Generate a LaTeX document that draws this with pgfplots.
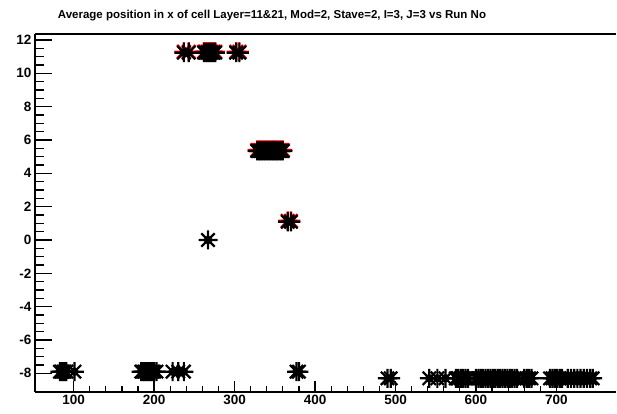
\documentclass[border=0pt]{standalone}
\usepackage{fontspec}
\setmainfont{Liberation Sans}
\usepackage{pgfplots}
\pgfplotsset{compat=1.18}

% ROOT-like eight-armed asterisk with a solid core
\pgfdeclareplotmark{rootstar}{%
  \pgfpathmoveto{\pgfqpoint{-\pgfplotmarksize}{0pt}}\pgfpathlineto{\pgfqpoint{\pgfplotmarksize}{0pt}}%
  \pgfpathmoveto{\pgfqpoint{0pt}{-\pgfplotmarksize}}\pgfpathlineto{\pgfqpoint{0pt}{\pgfplotmarksize}}%
  \pgfpathmoveto{\pgfqpoint{-0.7\pgfplotmarksize}{-0.7\pgfplotmarksize}}\pgfpathlineto{\pgfqpoint{0.7\pgfplotmarksize}{0.7\pgfplotmarksize}}%
  \pgfpathmoveto{\pgfqpoint{-0.7\pgfplotmarksize}{0.7\pgfplotmarksize}}\pgfpathlineto{\pgfqpoint{0.7\pgfplotmarksize}{-0.7\pgfplotmarksize}}%
  \pgfusepathqstroke
  \pgfpathcircle{\pgfpointorigin}{0.45\pgfplotmarksize}\pgfusepathqfill}

\begin{document}
\begin{tikzpicture}
\begin{axis}[name=ax, at={(0,0)}, anchor=south west, scale only axis,
  width=581pt, height=358pt,
  xmin=52, xmax=774, ymin=-9.12, ymax=12.36,
  axis x line*=box, axis y line*=left,
  axis line style={line width=1.8pt},
  xtick pos=left, ytick pos=left, tick align=inside,
  xtick={100,200,...,700}, minor x tick num=4,
  ytick={-8,-6,...,12}, minor y tick num=3,
  major tick length=17pt, minor tick length=9pt,
  xtick style={/pgfplots/major tick length=11pt, /pgfplots/minor tick length=6pt},
  tick style={line width=1.2pt, black},
  /pgf/number format/assume math mode=true,
  tick label style={font=\bfseries\fontsize{13.5}{14}\selectfont},
  every axis plot/.append style={only marks, mark=rootstar, mark size=9.5pt, line width=2.2pt}]

% red graph (drawn underneath)
\addplot[red, mark options={red}] coordinates {
  (237,11.3) (243,11.3) (262,11.3) (264,11.3) (266,11.3) (268,11.3) (270,11.3) (272,11.3) (274,11.3) (276,11.3) (302,11.3) (306,11.3)
  (328,5.4) (330,5.4) (332,5.4) (334,5.4) (336,5.4) (338,5.4) (340,5.4) (342,5.4) (344,5.4) (346,5.4) (348,5.4)
  (350,5.4) (352,5.4) (354,5.4) (356,5.4) (358,5.4) (360,5.4)
  (366,1.15) (370,1.15)
};

% black graph
\addplot[black, mark options={black}] coordinates {
  (237,11.24) (243,11.24) (262,11.24) (264,11.24) (266,11.24) (268,11.24) (270,11.24) (272,11.24) (274,11.24) (276,11.24) (302,11.24) (306,11.24)
  (328,5.34) (330,5.34) (332,5.34) (334,5.34) (336,5.34) (338,5.34) (340,5.34) (342,5.34) (344,5.34) (346,5.34) (348,5.34)
  (350,5.34) (352,5.34) (354,5.34) (356,5.34) (358,5.34) (360,5.34)
  (366,1.09) (370,1.09)
  (267,0)
  (83,-7.9) (85,-7.9) (87,-7.9) (89,-7.9) (91,-7.9) (101,-7.9)
  (184,-7.9) (186,-7.9) (188,-7.9) (190,-7.9) (192,-7.9) (194,-7.9) (196,-7.9) (198,-7.9) (200,-7.9) (203,-7.9)
  (223,-7.9) (230,-7.9) (237,-7.9)
  (377,-7.9) (380,-7.9)
  (490,-8.3) (494,-8.3) (542,-8.3) (552,-8.3) (562,-8.3)
  (575,-8.3) (578,-8.3) (581,-8.3) (584,-8.3) (587,-8.3) (590,-8.3) (600,-8.3) (603,-8.3) (606,-8.3) (609,-8.3)
  (612,-8.3) (615,-8.3) (618,-8.3) (621,-8.3) (624,-8.3) (627,-8.3) (630,-8.3) (633,-8.3) (636,-8.3) (639,-8.3)
  (642,-8.3) (645,-8.3) (648,-8.3) (651,-8.3) (660,-8.3) (663,-8.3) (666,-8.3) (669,-8.3)
  (692,-8.3) (695,-8.3) (698,-8.3) (701,-8.3) (704,-8.3) (707,-8.3) (714,-8.3) (718,-8.3) (722,-8.3) (726,-8.3)
  (730,-8.3) (734,-8.3) (738,-8.3) (742,-8.3) (745,-8.3)
};
\end{axis}
\pgfresetboundingbox
\path[use as bounding box] ([shift={(-35pt,-22pt)}]ax.south west) rectangle ([shift={(582pt,392pt)}]ax.south west);
\node[font=\bfseries\fontsize{11.5}{13}\selectfont] at ([shift={(237pt,376pt)}]ax.south west)
  {Average position in x of cell Layer=11\&21, Mod=2, Stave=2, I=3, J=3 vs Run No};
\end{tikzpicture}
\end{document}
